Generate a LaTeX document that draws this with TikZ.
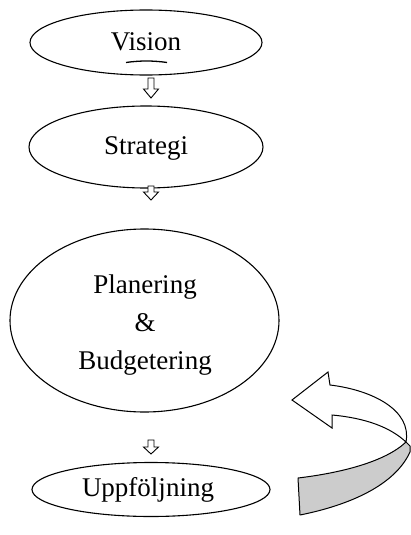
\documentclass[tikz,border=0pt]{standalone}
\usepackage{fontspec}
\setmainfont{Liberation Serif}
\begin{document}
\begin{tikzpicture}[x=1pt,y=-1pt,
  oval/.style={draw,line width=1.1pt,ellipse,minimum width=2*#1},
  lbl/.style={font=\fontsize{27}{38}\selectfont,align=center},
  hollow/.style={draw,line width=0.9pt,fill=white}]
\useasboundingbox (0,0) rectangle (410,535);
% ellipses
\draw[line width=1.1pt] (146,42.5) ellipse [x radius=116,y radius=32.5];
\draw[line width=1.1pt] (146,147) ellipse [x radius=117,y radius=41];
\draw[line width=1.1pt] (144.5,320.5) ellipse [x radius=134.5,y radius=91.5];
\draw[line width=1.1pt] (151,489.5) ellipse [x radius=119,y radius=27];
% labels
\node[lbl] (vision) at (146,42) {Vision};
\node[lbl] (strategi) at (146,148) {Strategi};
\node[lbl] (plan) at (145,325) {Planering\\\&\\Budgetering};
\node[lbl] (upp) at (148,490) {Uppföljning};
\draw[line width=1.3pt] (126,62.5) .. controls (140,60.5) and (153,60.5) .. (167,62.5);
% small hollow arrows
\foreach \cx/\ty/\hy/\by in {151/78/89/98, 151/186/192/200, 151/440/447/454}{
  \draw[hollow,line join=miter] (\cx-3,\ty) -- (\cx+3,\ty) -- (\cx+3,\hy) -- (\cx+7.5,\hy)
    -- (\cx,\by) -- (\cx-7.5,\hy) -- (\cx-3,\hy) -- cycle;
}
% curved arrow: gray back part
\draw[line width=1pt,fill=black!20,line join=round]
  (298,478) .. controls (340,473) and (385,462) .. (406,442)
  -- (410,446)
  -- (410,452) .. controls (395,485) and (350,505) .. (300,515) -- cycle;
% white front part with head
\draw[line width=1pt,fill=white,line join=miter]
  (292,400) -- (328,372) -- (330,385)
  .. controls (372,390) and (412,410) .. (406,442)
  .. controls (390,427) and (365,418) .. (332,415)
  -- (332,428) -- cycle;
\end{tikzpicture}
\end{document}
